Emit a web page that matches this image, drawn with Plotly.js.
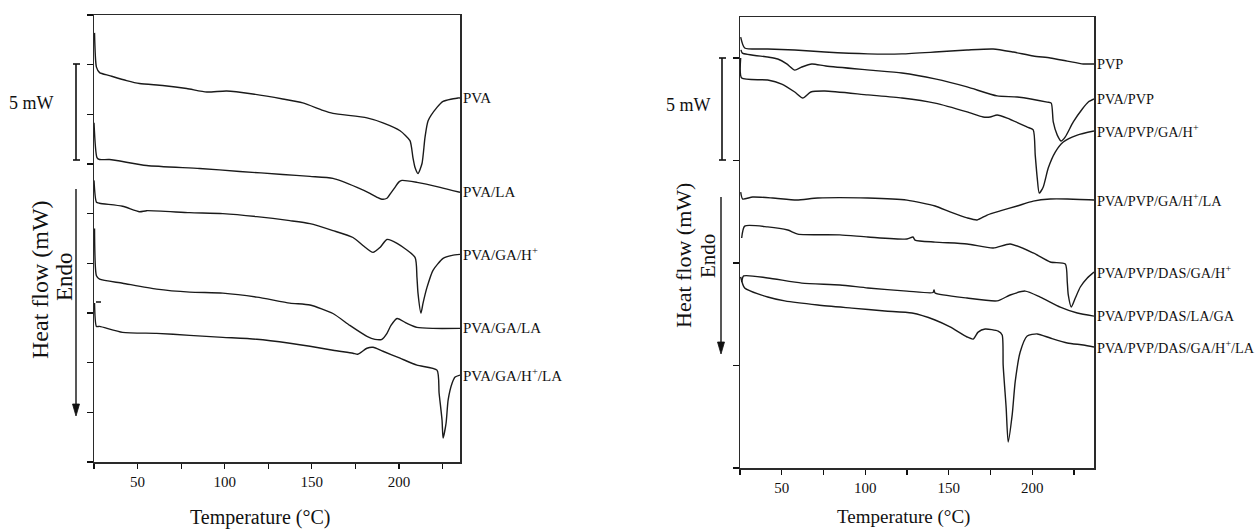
<!DOCTYPE html>
<html>
<head>
<meta charset="utf-8">
<script src="https://cdn.plot.ly/plotly-3.0.1.min.js"></script>
<style>html,body{margin:0;padding:0;background:#fff;}#chart{width:1258px;height:530px;}</style>
</head>
<body>
<div id="chart"></div>
<script>
// ---------- tick labels ----------
const xTickVals = [50, 100, 150, 200];
const xTickText = ['50', '100', '150', '200'];
const xMinorVals = [25, 75, 125, 175, 225];

// ---------- left panel (temperature °C, heat flow in arbitrary tick units) ----------
const leftNames = ['PVA', 'PVA/LA', 'PVA/GA/H<sup>+</sup>', 'PVA/GA/LA', 'PVA/GA/H<sup>+</sup>/LA'];

const pvaT = [25.3, 26.4, 28.2, 33.9, 43.7, 51.1, 64.4, 78.2, 89.7, 101.1, 116.1, 133.3, 144.8, 156.3, 162.1, 181.6, 190.8, 200.6, 206.3, 208.0, 209.2, 210.9, 213.2, 214.9, 216.7, 221.8, 225.3, 233.9, 235];
const pvaY = [8.64, 7.95, 7.84, 7.78, 7.68, 7.62, 7.58, 7.52, 7.45, 7.47, 7.41, 7.31, 7.23, 7.08, 7.02, 6.93, 6.83, 6.67, 6.47, 6.13, 5.93, 5.81, 6.01, 6.53, 6.87, 7.14, 7.26, 7.33, 7.33];

const pvaLaT = [25.0, 26.7, 28.2, 33.9, 55.2, 85.6, 108.6, 133.3, 148.9, 162.1, 175.9, 183.3, 187.4, 190.2, 193.1, 195.4, 197.7, 200.0, 201.7, 210.3, 223.6, 235];
const pvaLaY = [6.83, 6.13, 6.09, 6.09, 5.97, 5.91, 5.85, 5.79, 5.75, 5.71, 5.53, 5.41, 5.33, 5.29, 5.31, 5.42, 5.53, 5.64, 5.67, 5.63, 5.53, 5.43];

const pvaGaHT = [25.0, 26.4, 28.2, 41.4, 51.1, 55.2, 79.9, 98.9, 118.4, 137.4, 148.9, 162.1, 173.6, 179.3, 185.1, 189.1, 193.1, 198.9, 209.2, 210.3, 210.9, 212.6, 213.8, 216.1, 219.5, 225.3, 230.5, 235];
const pvaGaHY = [5.67, 5.23, 5.21, 5.15, 5.04, 5.06, 5.02, 5.00, 4.94, 4.86, 4.80, 4.66, 4.52, 4.36, 4.22, 4.32, 4.48, 4.40, 4.12, 3.72, 3.40, 3.00, 3.20, 3.52, 3.86, 4.10, 4.16, 4.18];

const pvaGaLaT = [25.3, 26.4, 28.2, 41.4, 60.9, 79.9, 98.9, 118.4, 137.4, 148.9, 162.1, 171.8, 181.6, 186.2, 190.2, 193.1, 195.4, 198.9, 204.6, 210.3, 219.5, 235];
const pvaGaLaY = [4.70, 3.75, 3.68, 3.60, 3.48, 3.42, 3.40, 3.32, 3.20, 3.16, 2.99, 2.75, 2.53, 2.47, 2.47, 2.59, 2.75, 2.89, 2.79, 2.71, 2.69, 2.69];

const pvaGaHLaT = [25.3, 26.4, 28.2, 41.4, 60.9, 79.9, 98.9, 118.4, 137.4, 148.9, 162.1, 173.6, 176.4, 181.6, 185.1, 190.8, 200.6, 210.3, 221.8, 223.0, 224.7, 225.3, 227.0, 228.2, 230.5, 232.2, 235];
const pvaGaHLaY = [3.20, 2.73, 2.73, 2.61, 2.59, 2.55, 2.51, 2.47, 2.39, 2.33, 2.25, 2.19, 2.17, 2.29, 2.31, 2.23, 2.09, 1.95, 1.85, 1.39, 0.84, 0.48, 0.78, 1.25, 1.59, 1.71, 1.75];

// ---------- right panel (temperature °C, heat flow mW with offsets) ----------
const rightNames = ['PVP', 'PVA/PVP', 'PVA/PVP/GA/H<sup>+</sup>', 'PVA/PVP/GA/H<sup>+</sup>/LA', 'PVA/PVP/DAS/GA/H<sup>+</sup>', 'PVA/PVP/DAS/LA/GA', 'PVA/PVP/DAS/GA/H<sup>+</sup>/LA'];

const pvpT = [25.4, 27.8, 41.6, 57.8, 75.8, 101.6, 122.0, 141.8, 161.0, 176.6, 188.6, 200.6, 210.8, 221.0, 230.6, 237];
const pvpY = [21.02, 20.49, 20.44, 20.39, 20.29, 20.20, 20.20, 20.29, 20.39, 20.44, 20.29, 20.10, 20.00, 19.85, 19.71, 19.71];

const pvaPvpT = [25.6, 26.4, 41.6, 47.6, 53.0, 57.8, 62.0, 68.0, 76.4, 102.8, 122.0, 141.8, 161.0, 179.0, 191.0, 209.0, 211.4, 212.6, 215.0, 217.4, 219.8, 224.6, 230.0, 233.6, 237];
const pvaPvpY = [20.40, 20.24, 20.05, 19.95, 19.71, 19.41, 19.56, 19.71, 19.61, 19.41, 19.27, 18.98, 18.59, 18.15, 18.10, 17.85, 17.80, 16.88, 16.24, 15.95, 16.15, 16.88, 17.51, 17.85, 18.00];

const pvaPvpGaHT = [25.4, 26.0, 41.6, 50.0, 57.8, 62.6, 67.4, 75.8, 101.6, 122.0, 141.8, 161.0, 170.6, 174.8, 179.0, 185.0, 197.0, 200.6, 201.8, 203.0, 204.2, 206.6, 209.6, 213.8, 218.6, 227.0, 237];
const pvaPvpGaHY = [20.00, 19.02, 18.93, 18.73, 18.34, 18.05, 18.34, 18.39, 18.20, 18.05, 17.80, 17.37, 17.12, 17.12, 17.22, 17.07, 16.63, 16.49, 15.27, 14.15, 13.41, 13.71, 14.63, 15.41, 15.90, 16.24, 16.44];

const pvaPvpGaHLaT = [25.4, 26.6, 32.6, 44.6, 59.0, 71.6, 101.6, 125.0, 141.8, 150.8, 161.0, 167.0, 173.0, 180.8, 191.0, 200.6, 210.8, 221.0, 237];
const pvaPvpGaHLaY = [13.46, 13.12, 13.22, 13.17, 13.07, 13.17, 13.17, 13.07, 12.78, 12.49, 12.20, 12.10, 12.34, 12.54, 12.78, 13.02, 13.12, 13.12, 13.07];

const dasGaHT = [26.0, 27.8, 41.6, 53.6, 59.6, 84.8, 101.6, 125.0, 128.6, 129.8, 141.8, 161.0, 176.6, 186.8, 200.6, 210.8, 219.8, 221.0, 221.6, 223.4, 225.8, 228.8, 233.0, 237];
const dasGaHY = [11.22, 11.80, 11.76, 11.61, 11.41, 11.37, 11.27, 11.17, 11.27, 11.12, 11.02, 10.93, 10.73, 10.93, 10.49, 10.05, 9.95, 9.07, 8.44, 7.85, 8.29, 8.83, 9.27, 9.56];

const dasLaGaT = [26.0, 27.2, 41.6, 62.0, 84.8, 101.6, 125.0, 140.6, 141.2, 141.8, 161.0, 179.0, 186.8, 195.8, 204.8, 216.8, 227.0, 237];
const dasLaGaY = [9.07, 9.37, 9.27, 9.02, 8.93, 8.78, 8.63, 8.56, 8.68, 8.54, 8.29, 8.15, 8.44, 8.63, 8.34, 7.85, 7.56, 7.41];

const dasGaHLaT = [25.4, 27.8, 41.6, 51.8, 71.6, 92.0, 111.8, 128.0, 141.8, 150.8, 161.0, 164.6, 167.6, 171.8, 179.6, 182.0, 182.6, 184.4, 185.6, 188.0, 189.8, 192.8, 197.0, 203.0, 210.8, 221.0, 230.6, 237];
const dasGaHLaY = [9.32, 8.78, 8.34, 8.15, 7.95, 7.80, 7.66, 7.56, 7.22, 6.88, 6.39, 6.29, 6.63, 6.78, 6.68, 6.49, 5.02, 2.93, 1.27, 2.59, 4.20, 5.66, 6.44, 6.54, 6.34, 6.10, 6.00, 5.90];

// ---------- build ----------
const W = 1258, H = 530;
const px = v => v / W, py = v => 1 - v / H;
const FONT = 'Liberation Serif, Times New Roman, serif';
const lineStyle = {color: '#1a1a1a', width: 1.4, shape: 'spline', smoothing: 0.6};

const leftSeries = [[pvaT, pvaY], [pvaLaT, pvaLaY], [pvaGaHT, pvaGaHY], [pvaGaLaT, pvaGaLaY], [pvaGaHLaT, pvaGaHLaY]];
const rightSeries = [[pvpT, pvpY], [pvaPvpT, pvaPvpY], [pvaPvpGaHT, pvaPvpGaHY], [pvaPvpGaHLaT, pvaPvpGaHLaY], [dasGaHT, dasGaHY], [dasLaGaT, dasLaGaY], [dasGaHLaT, dasGaHLaY]];

const traces = [];
const annotations = [];
leftSeries.forEach((s, i) => {
  traces.push({x: s[0], y: s[1], xaxis: 'x', yaxis: 'y', mode: 'lines', line: lineStyle, name: leftNames[i], showlegend: false, hoverinfo: 'skip'});
  annotations.push({xref: 'x', yref: 'y', x: s[0][s[0].length - 1], y: s[1][s[1].length - 1], text: leftNames[i], showarrow: false, xanchor: 'left', yanchor: 'middle', xshift: 1, font: {family: FONT, size: 15, color: '#111'}});
});
rightSeries.forEach((s, i) => {
  traces.push({x: s[0], y: s[1], xaxis: 'x2', yaxis: 'y2', mode: 'lines', line: lineStyle, name: rightNames[i], showlegend: false, hoverinfo: 'skip'});
  annotations.push({xref: 'x2', yref: 'y2', x: s[0][s[0].length - 1], y: s[1][s[1].length - 1], text: rightNames[i], showarrow: false, xanchor: 'left', yanchor: 'middle', xshift: 1, font: {family: FONT, size: 14.3, color: '#111'}});
});

function txt(x, y, text, size, angle) {
  return {xref: 'paper', yref: 'paper', x: px(x), y: py(y), text: text, showarrow: false, xanchor: 'center', yanchor: 'middle', textangle: angle || 0, font: {family: FONT, size: size, color: '#111'}};
}
annotations.push(txt(260, 517, 'Temperature (°C)', 20));
annotations.push(txt(903, 517, 'Temperature (°C)', 19));
annotations.push(txt(40, 280, 'Heat flow (mW)', 24, -90));
annotations.push(txt(64, 277, 'Endo', 23, -90));
annotations.push(txt(683, 256, 'Heat flow (mW)', 22, -90));
annotations.push(txt(708, 256, 'Endo', 21, -90));
annotations.push(txt(31, 103, '5 mW', 18));
annotations.push(txt(688, 105, '5 mW', 18));

function seg(x0, y0, x1, y1, w) {
  return {type: 'line', xref: 'paper', yref: 'paper', x0: px(x0), y0: py(y0), x1: px(x1), y1: py(y1), line: {color: '#111', width: w || 1.6}};
}
function arrowHead(x, yTip) {
  const p = `M ${px(x - 3.5)} ${py(yTip - 12)} L ${px(x + 3.5)} ${py(yTip - 12)} L ${px(x)} ${py(yTip)} Z`;
  return {type: 'path', xref: 'paper', yref: 'paper', path: p, fillcolor: '#111', line: {color: '#111', width: 0.8}};
}
const shapes = [
  // left 5 mW scale bar
  seg(76, 64, 76, 160), seg(73, 64, 80, 64), seg(73, 160, 80, 160),
  // right 5 mW scale bar
  seg(722, 58, 722, 160), seg(719, 58, 726, 58), seg(719, 160, 726, 160),
  // Endo arrows
  seg(76, 189, 76, 406, 1.4), arrowHead(76, 416),
  seg(721, 197, 721, 344, 1.4), arrowHead(721, 354),
  // small stray mark inside left plot
  seg(96, 302, 101, 302, 1.5)
];

const axisCommon = {showline: true, mirror: true, linecolor: '#2a2a2a', linewidth: 1.5, showgrid: false, zeroline: false, ticks: 'outside', tickcolor: '#111', tickwidth: 1.2, tickfont: {family: FONT, size: 15, color: '#111'}};
const minorX = {tickmode: 'array', tickvals: xMinorVals, ticks: 'outside', ticklen: 5, tickwidth: 1.2, tickcolor: '#111', showgrid: false};

const layout = {
  width: W, height: H,
  margin: {l: 0, r: 0, t: 0, b: 0},
  paper_bgcolor: '#fff', plot_bgcolor: '#fff',
  showlegend: false,
  xaxis: Object.assign({}, axisCommon, {domain: [px(94), px(460)], range: [25, 235], tickmode: 'array', tickvals: xTickVals, ticktext: xTickText, ticklen: 5, minor: minorX, anchor: 'y'}),
  yaxis: Object.assign({}, axisCommon, {domain: [py(462), py(15)], range: [0, 9], tick0: 0, dtick: 1, showticklabels: false, ticklen: 6, anchor: 'x'}),
  xaxis2: Object.assign({}, axisCommon, {domain: [px(740), px(1094)], range: [25, 237], tickmode: 'array', tickvals: xTickVals, ticktext: xTickText, ticklen: 5, minor: minorX, anchor: 'y2'}),
  yaxis2: Object.assign({}, axisCommon, {domain: [py(468), py(17)], range: [0, 22], tick0: 0, dtick: 5, showticklabels: false, ticklen: 6, anchor: 'x2'}),
  annotations: annotations,
  shapes: shapes
};

Plotly.newPlot('chart', traces, layout, {displayModeBar: false, staticPlot: true});
</script>
</body>
</html>
